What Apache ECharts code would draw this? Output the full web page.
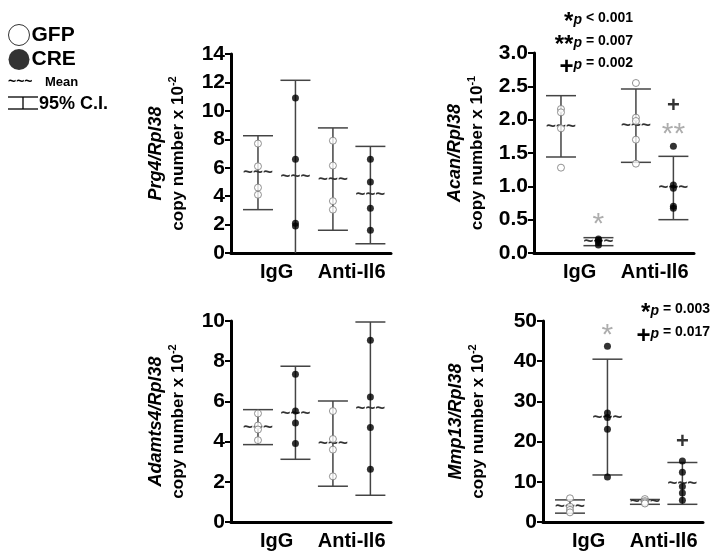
<!DOCTYPE html>
<html>
<head>
<meta charset="utf-8">
<script src="https://cdn.jsdelivr.net/npm/echarts@6/dist/echarts.min.js"></script>
<style>
  html, body { margin: 0; padding: 0; background: #fff; }
  #chart { width: 714px; height: 559px; }
</style>
</head>
<body>
<div id="chart"></div>
<script>
// groups on each panel: GFP IgG, CRE IgG, GFP Anti-Il6, CRE Anti-Il6 (x = 1..4)
const groupX = [1, 2, 3, 4];
const xTickValues = [1.5, 3.5];
const xTickLabels = ["IgG", "Anti-Il6"];

// Prg4
const prg4Points = [[7.7, 6.1, 4.6, 4.1], [10.9, 6.6, 2.1, 1.9], [7.9, 6.15, 3.65, 3.05], [6.6, 5.0, 3.15, 1.6]];
const prg4Mean = [5.65, 5.4, 5.2, 4.1];
const prg4Low = [3.05, -1.35, 1.6, 0.65];
const prg4High = [8.25, 12.15, 8.8, 7.5];

// Acan
const acanPoints = [[2.16, 2.11, 1.87, 1.28], [0.21, 0.19, 0.16, 0.12], [2.55, 2.03, 1.98, 1.7, 1.34], [1.6, 1.02, 0.97, 0.7, 0.67]];
const acanMean = [1.9, 0.17, 1.91, 0.99];
const acanLow = [1.44, 0.11, 1.36, 0.5];
const acanHigh = [2.36, 0.23, 2.46, 1.45];
const acanMarks = [[2, 0.53, "*"], [4, 2.2, "+"], [4, 1.88, "**"]];

// Adamts4
const adamtsPoints = [[5.4, 4.8, 4.6, 4.07], [7.35, 5.52, 4.93, 3.9], [5.52, 4.13, 3.6, 2.27], [9.04, 6.22, 4.7, 2.62]];
const adamtsMean = [4.73, 5.42, 3.9, 5.64];
const adamtsLow = [3.85, 3.12, 1.78, 1.33];
const adamtsHigh = [5.59, 7.75, 6.02, 9.95];

// Mmp13
const mmpPoints = [[5.9, 3.8, 3.0, 2.4], [43.7, 27.1, 26.0, 23.1, 11.2], [5.7, 5.2, 4.9, 4.6], [15.2, 12.4, 8.8, 7.2, 5.4]];
const mmpMean = [3.8, 26.1, 5.1, 9.6];
const mmpLow = [2.2, 11.7, 4.4, 4.4];
const mmpHigh = [5.5, 40.5, 5.6, 14.8];
const mmpMarks = [[2, 48, "*"], [4, 20, "+"]];

const geneNames = ["Prg4/Rpl38", "Acan/Rpl38", "Adamts4/Rpl38", "Mmp13/Rpl38"];
const exponents = ["-2", "-1", "-2", "-2"];
const yMax = [14, 3, 10, 50];
const yInterval = [2, 0.5, 2, 10];

const FONT = "Liberation Sans, Arial, sans-serif";

const panels = [
  { points: prg4Points, mean: prg4Mean, low: prg4Low, high: prg4High, marks: [] },
  { points: acanPoints, mean: acanMean, low: acanLow, high: acanHigh, marks: acanMarks },
  { points: adamtsPoints, mean: adamtsMean, low: adamtsLow, high: adamtsHigh, marks: [] },
  { points: mmpPoints, mean: mmpMean, low: mmpLow, high: mmpHigh, marks: mmpMarks },
];

const layout = [
  { left: 231, top: 54, width: 160, height: 199, nameGap: 42 },
  { left: 534, top: 53, width: 160, height: 200, nameGap: 46 },
  { left: 231, top: 321, width: 160, height: 201, nameGap: 42 },
  { left: 543, top: 321, width: 160, height: 201, nameGap: 54 },
];

function renderBar(params, api) {
  const x = api.value(0);
  const pM = api.coord([x, api.value(1)]);
  const pLo = api.coord([x, api.value(2)]);
  const pHi = api.coord([x, api.value(3)]);
  const hw = 15;
  const st = { stroke: "#444", lineWidth: 1.5 };
  return {
    type: "group",
    children: [
      { type: "line", shape: { x1: pHi[0], y1: pHi[1], x2: pLo[0], y2: pLo[1] }, style: st },
      { type: "line", shape: { x1: pHi[0] - hw, y1: pHi[1], x2: pHi[0] + hw, y2: pHi[1] }, style: st },
      { type: "line", shape: { x1: pLo[0] - hw, y1: pLo[1], x2: pLo[0] + hw, y2: pLo[1] }, style: st },
      { type: "text", style: { text: "~~~", x: pM[0], y: pM[1], align: "center", verticalAlign: "middle",
          font: "bold 17px " + FONT, fill: "#333" } },
    ],
  };
}

function init() {
  const chart = echarts.init(document.getElementById("chart"));
  const grid = [], xAxis = [], yAxis = [], series = [];

  panels.forEach((p, i) => {
    grid.push({ left: layout[i].left, top: layout[i].top, width: layout[i].width, height: layout[i].height });
    xAxis.push({
      type: "value", gridIndex: i, min: 0.28, max: 4.55,
      axisLine: { show: true, onZero: false, lineStyle: { color: "#000", width: 3 } },
      axisTick: { show: false }, splitLine: { show: false },
      axisLabel: {
        customValues: xTickValues, margin: 9,
        formatter: (v) => xTickLabels[xTickValues.indexOf(v)],
        color: "#000", fontWeight: "bold", fontSize: 20, fontFamily: FONT,
      },
    });
    yAxis.push({
      type: "value", gridIndex: i, min: 0, max: yMax[i], interval: yInterval[i],
      axisLine: { show: true, lineStyle: { color: "#000", width: 3 } },
      axisTick: { show: true, length: 6, lineStyle: { color: "#000", width: 2 } },
      splitLine: { show: false },
      axisLabel: {
        color: "#000", fontWeight: "bold", fontSize: 21, fontFamily: FONT, margin: 6,
        formatter: (v) => (yInterval[i] < 1 ? v.toFixed(1) : String(v)),
      },
      name: "{g|" + geneNames[i] + "}\n{c|copy number x 10}{s|" + exponents[i] + "}",
      nameLocation: "middle", nameRotate: 90, nameGap: layout[i].nameGap,
      nameTextStyle: {
        rich: {
          g: { fontStyle: "italic", fontWeight: "bold", fontSize: 18, fontFamily: FONT, color: "#000", lineHeight: 22 },
          c: { fontWeight: "bold", fontSize: 17, fontFamily: FONT, color: "#000", lineHeight: 22 },
          s: { fontWeight: "bold", fontSize: 11, fontFamily: FONT, color: "#000", lineHeight: 22, verticalAlign: "top" },
        },
      },
    });

    series.push({
      type: "custom", xAxisIndex: i, yAxisIndex: i, clip: true, z: 2, silent: true,
      data: groupX.map((x, j) => [x, p.mean[j], p.low[j], p.high[j]]),
      renderItem: renderBar,
    });

    const gfp = [], cre = [];
    p.points.forEach((vals, j) => {
      vals.forEach((v) => (j % 2 === 0 ? gfp : cre).push([groupX[j], v]));
    });
    series.push({
      type: "scatter", name: "GFP", xAxisIndex: i, yAxisIndex: i, z: 3, symbolSize: 7,
      itemStyle: { color: "#fff", borderColor: "#777", borderWidth: 1 }, data: gfp,
    });
    series.push({
      type: "scatter", name: "CRE", xAxisIndex: i, yAxisIndex: i, z: 3, symbolSize: 7,
      itemStyle: { color: "#000" }, data: cre,
    });

    if (p.marks.length) {
      series.push({
        type: "scatter", xAxisIndex: i, yAxisIndex: i, z: 4, symbolSize: 0, silent: true,
        data: p.marks.map((m) => ({
          value: [m[0], m[1]],
          label: m[2] === "+"
            ? { formatter: "+", color: "#000", fontSize: 22, fontWeight: "bold", offset: [0, 0] }
            : { formatter: m[2], color: "#999", fontSize: 30, fontWeight: "normal", offset: [0, 7] },
        })),
        label: { show: true, position: "inside", fontFamily: FONT },
      });
    }
  });

  const pText = (x, y, sym, rest) => ({
    type: "text", x: x, y: y,
    style: {
      text: "{s|" + sym + "}{p|p}{v|" + rest + "}", align: "right", verticalAlign: "middle",
      rich: {
        s: { font: "bold 24px " + FONT, fill: "#000", padding: [8, 0, 0, 0] },
        p: { font: "italic bold 14px " + FONT, fill: "#000", padding: [4, 0, 0, 0] },
        v: { font: "bold 14px " + FONT, fill: "#000" },
      },
    },
  });

  const option = {
    animation: false,
    grid, xAxis, yAxis, series,
    legend: {
      data: [
        { name: "GFP", icon: "circle", itemStyle: { color: "#fff", borderColor: "#000", borderWidth: 1 } },
        { name: "CRE", icon: "circle", itemStyle: { color: "#000" } },
      ],
      orient: "vertical", left: 3, top: 19, itemWidth: 21, itemHeight: 21, itemGap: 3,
      selectedMode: false,
      textStyle: { fontWeight: "bold", fontSize: 21, fontFamily: FONT, color: "#000", padding: [0, 0, 0, -3] },
    },
    graphic: [
      { type: "text", x: 8, y: 82, style: { text: "~~~", font: "bold 14px " + FONT, fill: "#000", verticalAlign: "middle" } },
      { type: "text", x: 45, y: 82, style: { text: "Mean", font: "bold 13px " + FONT, fill: "#000", verticalAlign: "middle" } },
      { type: "line", shape: { x1: 8, y1: 97, x2: 38, y2: 97 }, style: { stroke: "#000", lineWidth: 1.3 } },
      { type: "line", shape: { x1: 8, y1: 109, x2: 38, y2: 109 }, style: { stroke: "#000", lineWidth: 1.3 } },
      { type: "line", shape: { x1: 23, y1: 97, x2: 23, y2: 109 }, style: { stroke: "#000", lineWidth: 1.3 } },
      { type: "text", x: 39, y: 104, style: { text: "95% C.I.", font: "bold 18px " + FONT, fill: "#000", verticalAlign: "middle" } },
      pText(633, 18, "*", " < 0.001"),
      pText(633, 41, "**", " = 0.007"),
      pText(633, 63, "+", " = 0.002"),
      pText(710, 309, "*", " = 0.003"),
      pText(710, 332, "+", " = 0.017"),
    ],
  };
  chart.setOption(option);
}

window.addEventListener("DOMContentLoaded", init);
</script>
</body>
</html>
